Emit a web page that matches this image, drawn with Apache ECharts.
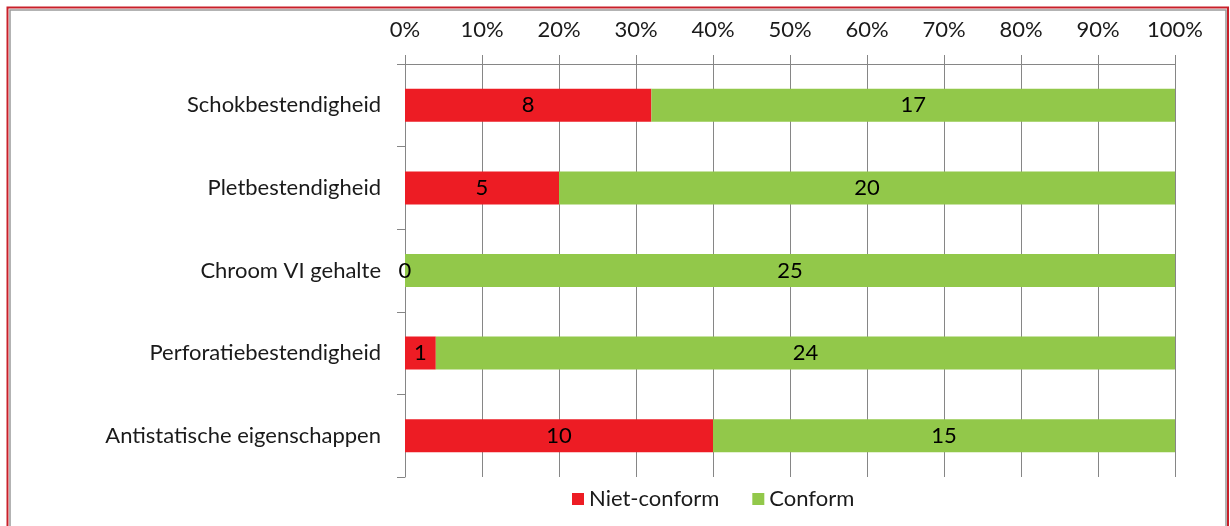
<!DOCTYPE html>
<html>
<head>
<meta charset="utf-8">
<script src="https://cdn.jsdelivr.net/npm/echarts@6/dist/echarts.min.js"></script>
<style>
html,body{margin:0;padding:0;background:#fff;}
#c{width:1230px;height:526px;}
</style>
</head>
<body>
<div id="c"></div>
<script>
const categories = ["Schokbestendigheid", "Pletbestendigheid", "Chroom VI gehalte", "Perforatiebestendigheid", "Antistatische eigenschappen"];
const nietConform = [8, 5, 0, 1, 10];
const conform = [17, 20, 25, 24, 15];
const tickLabels = ["0%", "10%", "20%", "30%", "40%", "50%", "60%", "70%", "80%", "90%", "100%"];

const totals = categories.map((c, i) => nietConform[i] + conform[i]);
const pct = (arr) => arr.map((v, i) => ({ value: v / totals[i] * 100, count: v }));

const FONT = "Lato";
const FS = 22;
const chart = echarts.init(document.getElementById('c'), null, { renderer: 'canvas' });
chart.setOption({
  animation: false,
  backgroundColor: '#ffffff',
  graphic: [
    { type: 'rect', shape: { x: 7.5, y: 7.5, width: 1220.5, height: 530 }, style: { fill: 'none', stroke: '#C8202A', lineWidth: 2 }, z: -10 },
    { type: 'rect', shape: { x: 10, y: 10, width: 1216, height: 530 }, style: { fill: 'none', stroke: '#9a9a9a', lineWidth: 1.5 }, z: -10 }
  ],
  grid: { left: 405, right: 55, top: 64, bottom: 49, containLabel: false },
  legend: {
    data: ['Niet-conform', 'Conform'],
    top: 483,
    left: 567,
    icon: 'rect',
    itemWidth: 12,
    itemHeight: 12,
    itemGap: 33,
    textStyle: { fontFamily: FONT, fontSize: FS, color: '#1a1a1a' }
  },
  xAxis: {
    type: 'value',
    position: 'top',
    min: 0, max: 100, interval: 10,
    axisLine: { show: true, lineStyle: { color: '#868686', width: 1 } },
    axisTick: { show: true, length: 9, lineStyle: { color: '#868686' } },
    splitLine: { show: true, lineStyle: { color: '#868686', width: 1 } },
    axisLabel: {
      margin: 23,
      fontFamily: FONT, fontSize: FS, color: '#1a1a1a',
      formatter: (v) => tickLabels[Math.round(v / 10)]
    }
  },
  yAxis: {
    type: 'category',
    data: categories,
    inverse: true,
    axisLine: { show: true, lineStyle: { color: '#868686', width: 1 } },
    axisTick: { show: true, length: 8, alignWithLabel: false, lineStyle: { color: '#868686' } },
    axisLabel: { margin: 24, fontFamily: FONT, fontSize: FS, color: '#1a1a1a' }
  },
  series: [
    {
      name: 'Niet-conform', type: 'bar', stack: 'total',
      barWidth: '40%',
      itemStyle: { color: '#ED1C24' },
      label: { show: true, position: 'inside', fontFamily: FONT, fontSize: FS, color: '#000',
        formatter: (p) => String(p.data.count) },
      data: pct(nietConform)
    },
    {
      name: 'Conform', type: 'bar', stack: 'total',
      barWidth: '40%',
      itemStyle: { color: '#92C84A' },
      label: { show: true, position: 'inside', fontFamily: FONT, fontSize: FS, color: '#000',
        formatter: (p) => String(p.data.count) },
      data: pct(conform)
    }
  ]
});
</script>
</body>
</html>
